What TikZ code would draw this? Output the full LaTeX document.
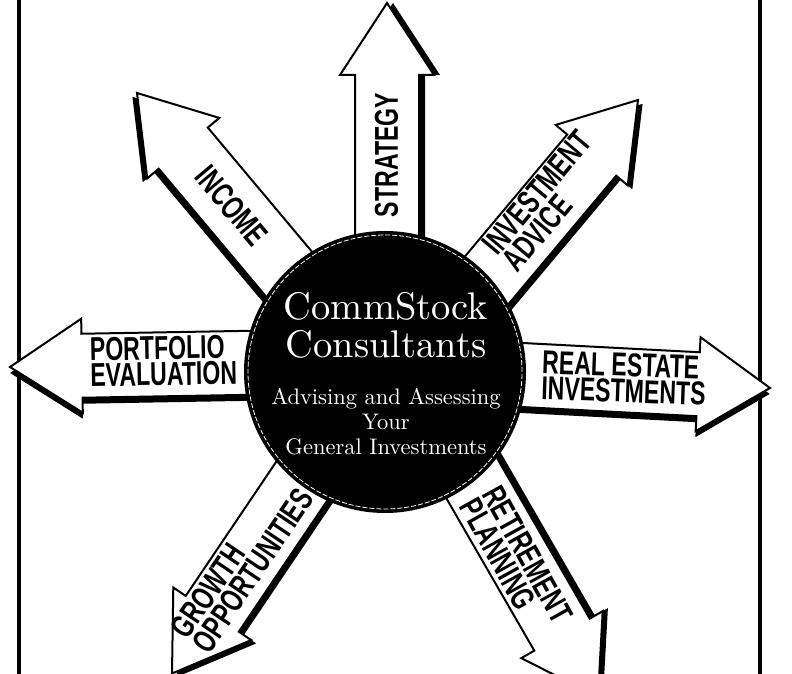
\documentclass[tikz,border=0pt]{standalone}
\usepackage{fontspec}
\newfontfamily\labelfont[FakeStretch=0.7]{Liberation Sans}
\newfontfamily\hubfont[Extension=.otf]{lmroman10-regular}

% block arrow: tip, direction, sideways offset of its shadow
\newcommand{\blockarrow}[3]{%
  \begin{scope}[shift={(#1)}, rotate=#2]
    \fill[yshift=#3] (0,0) -- (-72,47) -- (-72,32) -- (-260,32) -- (-260,-32) -- (-72,-32) -- (-72,-47) -- cycle;
    \filldraw[arrowbody] (0,0) -- (-72,47) -- (-72,32) -- (-260,32) -- (-260,-32) -- (-72,-32) -- (-72,-47) -- cycle;
  \end{scope}}

\begin{document}
\begin{tikzpicture}[x=1pt, y=1pt,
  arrowbody/.style={fill=white, draw=black, line width=2pt, line join=miter},
  lbl/.style={font=\labelfont\bfseries\fontsize{33}{26}\selectfont, align=left, inner sep=0pt},
  hubtitle/.style={text=white, font=\hubfont\fontsize{38.5}{40}\selectfont, inner sep=0pt, anchor=base},
  hubsub/.style={text=white, font=\hubfont\fontsize{22.5}{25}\selectfont, inner sep=0pt, anchor=base},
  siderule/.style={line width=4pt}]
\useasboundingbox (0,0) rectangle (792,674);
\clip (0,0) rectangle (792,674);
% side rules
\draw[siderule] (19,0) -- (19,674);
\draw[siderule] (760,0) -- (760,674);
% arrow tips
\coordinate (strategytip) at (387,671);
\coordinate (advicetip) at (638,574);
\coordinate (realtip) at (770,286);
\coordinate (retiretip) at (598,-23);
\coordinate (growthtip) at (172,0.5);
\coordinate (portfoliotip) at (10,307);
\coordinate (incometip) at (137,581);
\blockarrow{strategytip}{90}{-6}
\blockarrow{advicetip}{50}{-6}
\blockarrow{realtip}{-3}{-6}
\blockarrow{retiretip}{-60}{6}
\blockarrow{growthtip}{236}{6}
\blockarrow{portfoliotip}{181}{6}
\blockarrow{incometip}{130}{6}
% arrow labels
\node[lbl, rotate=90] (strategy) at (386.5,519) {STRATEGY};
\node[lbl, rotate=-50] (income) at (231.7,468.3) {INCOME};
\node[lbl, rotate=50] (advice) at (547,473) {INVESTMENT\\ADVICE};
\node[lbl, rotate=1] (portfolio) at (163.5,313) {PORTFOLIO\\EVALUATION};
\node[lbl, rotate=-2] (realestate) at (624,296) {REAL ESTATE\\INVESTMENTS};
\node[lbl, rotate=56] (growth) at (242,110.5) {GROWTH\\OPPORTUNITIES};
\node[lbl, rotate=-61] (retirement) at (516.4,113.1) {RETIREMENT\\PLANNING};
% hub
\node[circle, fill=black, minimum size=282pt, inner sep=0pt] (hub) at (385,302) {};
\draw[white, line width=0.8pt, dash pattern=on 5pt off 2pt] (hub.center) circle[radius=137pt];
\node[hubtitle] (comm) at (386,354) {CommStock};
\node[hubtitle] (cons) at (386,316) {Consultants};
\node[hubsub] (sub1) at (386,269) {Advising and Assessing};
\node[hubsub] (sub2) at (386,244) {Your};
\node[hubsub] (sub3) at (386,219) {General Investments};
\end{tikzpicture}
\end{document}
